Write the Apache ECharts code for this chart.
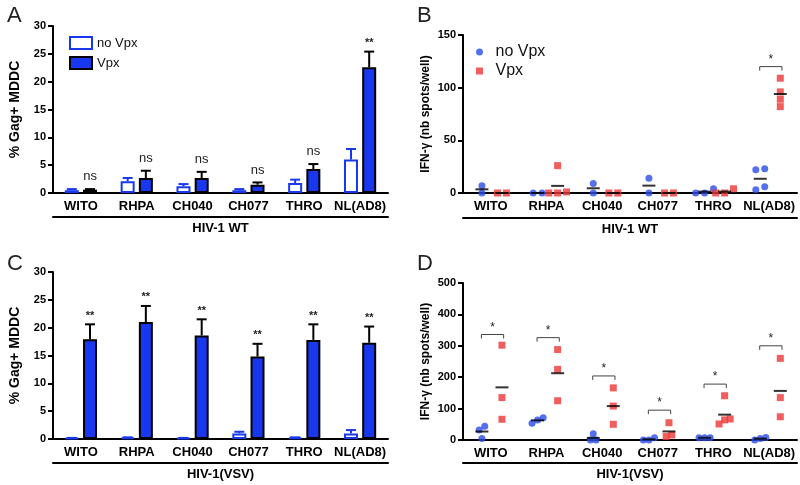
<!DOCTYPE html>
<html>
<head>
<meta charset="utf-8">
<script src="https://cdn.jsdelivr.net/npm/echarts@6/dist/echarts.min.js"></script>
<style>
html, body { margin: 0; padding: 0; background: #fff; }
#container { width: 800px; height: 485px; }
</style>
</head>
<body>
<div id="container"></div>
<script>
'use strict';
var strains = ['WITO', 'RHPA', 'CH040', 'CH077', 'THRO', 'NL(AD8)'];

// A: % Gag+ MDDC, HIV-1 WT (mean, top of error bar)
var wtNoVpx = [0.5, 2.1, 1.2, 0.5, 1.8, 6.0];
var wtNoVpxErr = [0.7, 2.7, 1.6, 0.7, 2.4, 7.9];
var wtVpx = [0.6, 2.7, 2.7, 1.5, 4.3, 22.6];
var wtVpxErr = [0.7, 4.0, 3.8, 1.9, 5.2, 25.4];
var wtSig = ['ns', 'ns', 'ns', 'ns', 'ns', '**'];

// C: % Gag+ MDDC, HIV-1(VSV)
var vsvNoVpx = [0.2, 0.3, 0.2, 1.0, 0.3, 1.0];
var vsvNoVpxErr = [0.2, 0.3, 0.2, 1.3, 0.3, 1.6];
var vsvVpx = [17.9, 21.0, 18.6, 14.8, 17.8, 17.3];
var vsvVpxErr = [20.6, 23.9, 21.5, 17.1, 20.6, 20.2];
var vsvSig = ['**', '**', '**', '**', '**', '**'];

// B: IFN-g spots/well, HIV-1 WT (one value per donor)
var spotsWtNoVpx = [[0, 7], [0, 0], [0, 9], [0, 14], [0, 4, 0], [23, 22, 3, 6]];
var spotsWtVpx = [[0, 0], [26, 1, 0, 0], [0, 0], [0, 0], [0, 4, 0], [109, 96, 82, 89]];
var spotsWtBracket = [null, null, null, null, null, 120];

// D: IFN-g spots/well, HIV-1(VSV)
var spotsVsvNoVpx = [[5, 44, 32], [71, 53, 64], [20, 0, 0], [7, 0, 0], [7, 7, 7], [8, 0, 5]];
var spotsVsvVpx = [[302, 135, 66], [288, 225, 125], [166, 108, 50], [55, 11, 16], [141, 67, 51, 64], [260, 135, 74]];
var spotsVsvBracket = [336, 326, 204, 95, 178, 300];

var font = 'Liberation Sans, Arial, Helvetica, sans-serif';
var barBlue = '#1838f0';
var dotBlue = '#2a4ce8';
var red = '#ee3636';

var dom = document.getElementById('container');
var myChart = echarts.init(dom, null, { renderer: 'canvas' });

function yAxis(g, max, step, name, nameSize, nameGap) {
    return {
        gridIndex: g, type: 'value', min: 0, max: max, interval: step,
        axisLine: { show: true, lineStyle: { color: '#000', width: 2 } },
        axisTick: { show: true, length: 5, lineStyle: { color: '#000', width: 2 } },
        axisLabel: { color: '#000', fontWeight: 'bold', fontSize: 11, fontFamily: font, margin: 7 },
        splitLine: { show: false },
        name: name, nameLocation: 'middle', nameGap: nameGap,
        nameTextStyle: { color: '#000', fontWeight: 'bold', fontSize: nameSize, fontFamily: font }
    };
}

function catAxis(g) {
    return {
        gridIndex: g, type: 'category', data: strains, position: 'bottom',
        axisLine: { lineStyle: { color: '#000', width: 2 } },
        axisTick: { alignWithLabel: true, interval: 0, length: 4, lineStyle: { color: '#000', width: 2 } },
        axisLabel: { interval: 0, color: '#000', fontWeight: 'bold', fontSize: 13, fontFamily: font, margin: 7 }
    };
}

// second axis only for the line under the strain names and the group title
function groupAxis(g, name, offset) {
    return {
        gridIndex: g, type: 'category', data: [''], position: 'bottom', offset: offset,
        axisLine: { lineStyle: { color: '#000', width: 2 } },
        axisTick: { show: false }, axisLabel: { show: false },
        name: name, nameLocation: 'middle', nameGap: 5,
        nameTextStyle: { color: '#000', fontWeight: 'bold', fontSize: 13, fontFamily: font, verticalAlign: 'top' }
    };
}

function valAxis(g) {
    return { gridIndex: g, type: 'value', min: 0, max: 6, show: false };
}

function errSeries(x, y, means, tops, side, color, sig) {
    return {
        type: 'custom', xAxisIndex: x, yAxisIndex: y, z: 5, silent: true,
        data: means.map(function (m, i) { return [i, m, tops[i]]; }),
        renderItem: function (params, api) {
            var i = api.value(0);
            var b = api.coord([i, api.value(1)]);
            var t = api.coord([i, api.value(2)]);
            var cx = b[0] + side * 9.1;
            var kids = [
                { type: 'line', shape: { x1: cx, y1: b[1], x2: cx, y2: t[1] }, style: { stroke: color, lineWidth: 2 } },
                { type: 'line', shape: { x1: cx - 5, y1: t[1], x2: cx + 5, y2: t[1] }, style: { stroke: color, lineWidth: 2 } }
            ];
            if (sig) {
                var s = sig[i];
                kids.push({
                    type: 'text', x: cx, y: t[1] - (s === 'ns' ? 6 : 3),
                    style: {
                        text: s, fill: '#222', align: 'center', verticalAlign: 'bottom',
                        font: (s === 'ns' ? 'normal 13px ' : 'bold 11px ') + font
                    }
                });
            }
            return { type: 'group', children: kids };
        }
    };
}

function barPanel(x, y, noVpx, noErr, vpx, vErr, sig) {
    return [
        { type: 'bar', name: 'no Vpx', xAxisIndex: x, yAxisIndex: y, data: noVpx, barWidth: 14, barGap: '30%',
          itemStyle: { color: '#fff', borderColor: barBlue, borderWidth: 2 } },
        { type: 'bar', name: 'Vpx', xAxisIndex: x, yAxisIndex: y, data: vpx, barWidth: 14, barGap: '30%',
          itemStyle: { color: barBlue, borderColor: '#000', borderWidth: 2 } },
        errSeries(x, y, noVpx, noErr, -1, barBlue, null),
        errSeries(x, y, vpx, vErr, 1, '#000', sig)
    ];
}

// spread points that would overlap, like a small beeswarm
function swarm(vals, pxPerUnit, base, step) {
    var order = vals.map(function (v, i) { return i; }).sort(function (a, b) { return vals[a] - vals[b]; });
    var out = [];
    var cluster = [];
    function flush() {
        cluster.forEach(function (k, j) { out[k] = base + (j - (cluster.length - 1) / 2) * step; });
        cluster = [];
    }
    order.forEach(function (k) {
        if (cluster.length && (vals[k] - vals[cluster[cluster.length - 1]]) * pxPerUnit > 6) flush();
        cluster.push(k);
    });
    flush();
    return out;
}

function mean(a) {
    return a.reduce(function (s, v) { return s + v; }, 0) / a.length;
}

function dotPanel(x, y, noVpx, vpx, brackets, pxPerUnit, step) {
    var blueBase = -0.16, redBase = 0.2;
    function pts(groups, base) {
        var d = [];
        groups.forEach(function (vals, i) {
            var xs = swarm(vals, pxPerUnit, base, step);
            vals.forEach(function (v, k) { d.push([i + 0.5 + xs[k], v]); });
        });
        return d;
    }
    function means(groups, base) {
        return groups.map(function (vals, i) { return [i + 0.5 + base, mean(vals)]; });
    }
    var br = [];
    brackets.forEach(function (b, i) { if (b !== null) br.push([i, b]); });
    return [
        { type: 'scatter', name: 'IFN no Vpx', xAxisIndex: x, yAxisIndex: y, symbol: 'circle', symbolSize: 7,
          itemStyle: { color: dotBlue }, data: pts(noVpx, blueBase), z: 3 },
        { type: 'scatter', name: 'IFN Vpx', xAxisIndex: x, yAxisIndex: y, symbol: 'rect', symbolSize: 7,
          itemStyle: { color: red }, data: pts(vpx, redBase), z: 3 },
        { type: 'scatter', name: 'mean', xAxisIndex: x, yAxisIndex: y, symbol: 'rect', symbolSize: [13, 2],
          itemStyle: { color: '#000' }, data: means(noVpx, blueBase).concat(means(vpx, redBase)), z: 4, silent: true },
        { type: 'custom', xAxisIndex: x, yAxisIndex: y, z: 5, silent: true, data: br,
          renderItem: function (params, api) {
              var i = api.value(0);
              var p1 = api.coord([i + 0.33, api.value(1)]);
              var p2 = api.coord([i + 0.73, api.value(1)]);
              return { type: 'group', children: [
                  { type: 'polyline', shape: { points: [[p1[0], p1[1] + 4], [p1[0], p1[1]], [p2[0], p2[1]], [p2[0], p2[1] + 4]] },
                    style: { stroke: '#444', lineWidth: 1, fill: null } },
                  { type: 'text', x: (p1[0] + p2[0]) / 2, y: p1[1] - 1,
                    style: { text: '*', fill: '#222', align: 'center', verticalAlign: 'bottom', font: 'normal 12px ' + font } }
              ] };
          } }
    ];
}

var series = []
    .concat(barPanel(0, 0, wtNoVpx, wtNoVpxErr, wtVpx, wtVpxErr, wtSig))
    .concat(dotPanel(4, 1, spotsWtNoVpx, spotsWtVpx, spotsWtBracket, 158 / 150, 0.16))
    .concat(barPanel(5, 2, vsvNoVpx, vsvNoVpxErr, vsvVpx, vsvVpxErr, vsvSig))
    .concat(dotPanel(9, 3, spotsVsvNoVpx, spotsVsvVpx, spotsVsvBracket, 157 / 500, 0.1));

function letter(t, left, top) {
    return { text: t, left: left, top: top, textStyle: { fontFamily: font, fontWeight: 'normal', fontSize: 22, color: '#222' } };
}

var option = {
    animation: false,
    backgroundColor: '#fff',
    title: [letter('A', 2, 0), letter('B', 412, 0), letter('C', 2, 248), letter('D', 412, 248)],
    grid: [
        { left: 53, top: 26, width: 335, height: 167 },
        { left: 463, top: 35, width: 334, height: 158 },
        { left: 53, top: 272, width: 335, height: 167 },
        { left: 463, top: 283, width: 334, height: 157 }
    ],
    xAxis: [
        catAxis(0), groupAxis(0, 'HIV-1 WT', 24),
        catAxis(1), groupAxis(1, 'HIV-1 WT', 25), valAxis(1),
        catAxis(2), groupAxis(2, 'HIV-1(VSV)', 24),
        catAxis(3), groupAxis(3, 'HIV-1(VSV)', 23), valAxis(3)
    ],
    yAxis: [
        yAxis(0, 30, 5, '% Gag+ MDDC', 14, 31),
        yAxis(1, 150, 50, 'IFN-γ (nb spots/well)', 12, 31),
        yAxis(2, 30, 5, '% Gag+ MDDC', 14, 31),
        yAxis(3, 500, 100, 'IFN-γ (nb spots/well)', 12, 31)
    ],
    legend: [
        {
            left: 64, top: 31, orient: 'vertical', itemWidth: 22, itemHeight: 12, itemGap: 6,
            selectedMode: false,
            textStyle: { fontFamily: font, fontSize: 13, color: '#111' },
            data: [
                { name: 'no Vpx', icon: 'rect', itemStyle: { color: '#fff', borderColor: barBlue, borderWidth: 2 } },
                { name: 'Vpx', icon: 'rect', itemStyle: { color: barBlue, borderColor: '#000', borderWidth: 2 } }
            ]
        },
        {
            left: 471, top: 39, orient: 'vertical', itemWidth: 22, itemHeight: 7, itemGap: 3,
            selectedMode: false,
            formatter: function (n) { return n.replace('IFN ', ''); },
            textStyle: { fontFamily: font, fontSize: 16, color: '#111' },
            data: [
                { name: 'IFN no Vpx', icon: 'circle' },
                { name: 'IFN Vpx', icon: 'path://M0,0H10V10H0Z' }
            ]
        }
    ],
    series: series
};
myChart.setOption(option);
</script>
</body>
</html>
